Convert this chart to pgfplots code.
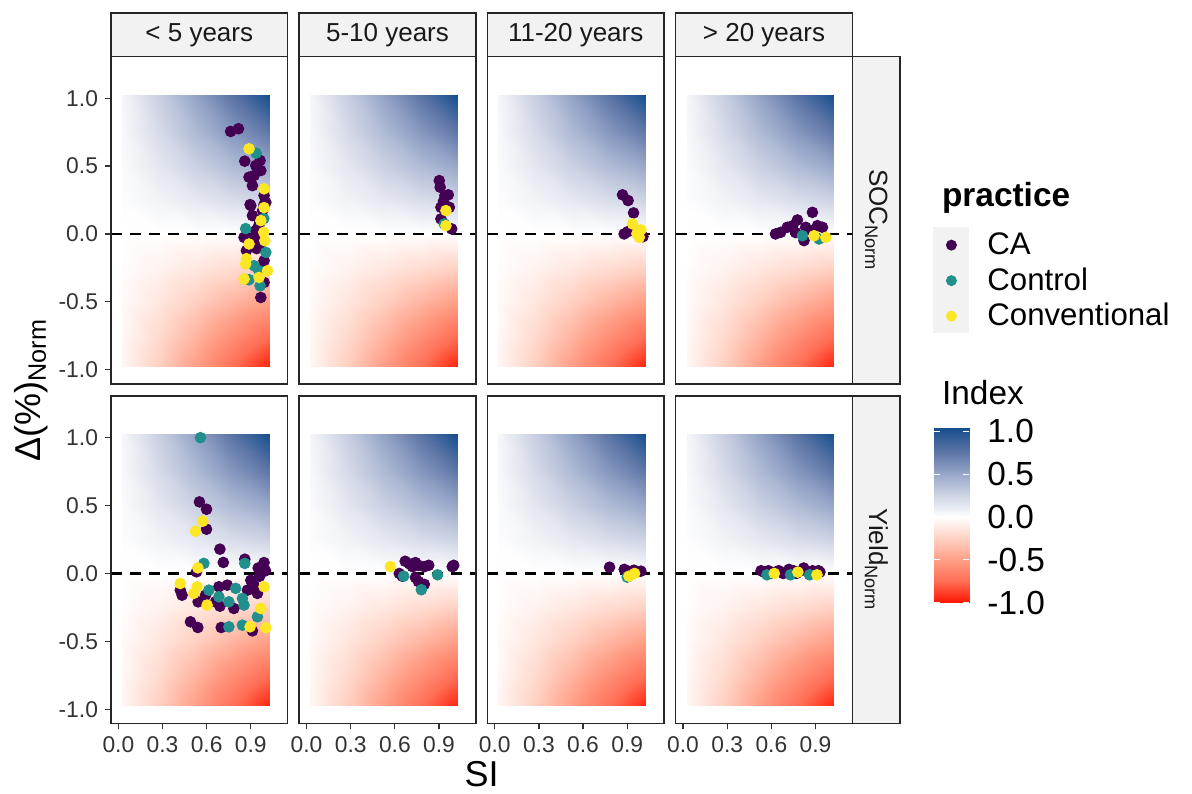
\documentclass[border=0pt]{standalone}
\usepackage{pgfplots}
\pgfplotsset{compat=1.18}
\usepackage{pgfplotstable}
\usepackage{fontspec}
\setmainfont{Liberation Sans}

\definecolor{vCA}{HTML}{440154}
\definecolor{vCT}{HTML}{21908C}
\definecolor{vCV}{HTML}{FDE725}
\definecolor{stripfill}{RGB}{242,242,242}

% background index grid (Index = SI x Delta at tile centres)
\pgfplotstableread{
x y c
0.025 -0.975 -0.0475
0.275 -0.975 -0.26125
0.525 -0.975 -0.49875
0.775 -0.975 -0.73625
1.025 -0.975 -0.95
0.025 -0.75 -0.0375
0.275 -0.75 -0.20625
0.525 -0.75 -0.39375
0.775 -0.75 -0.58125
1.025 -0.75 -0.75
0.025 -0.5 -0.025
0.275 -0.5 -0.1375
0.525 -0.5 -0.2625
0.775 -0.5 -0.3875
1.025 -0.5 -0.5
0.025 -0.25 -0.0125
0.275 -0.25 -0.06875
0.525 -0.25 -0.13125
0.775 -0.25 -0.19375
1.025 -0.25 -0.25
0.025 0 0
0.275 0 0
0.525 0 0
0.775 0 0
1.025 0 0
0.025 0.25 0.0125
0.275 0.25 0.06875
0.525 0.25 0.13125
0.775 0.25 0.19375
1.025 0.25 0.25
0.025 0.5 0.025
0.275 0.5 0.1375
0.525 0.5 0.2625
0.775 0.5 0.3875
1.025 0.5 0.5
0.025 0.75 0.0375
0.275 0.75 0.20625
0.525 0.75 0.39375
0.775 0.75 0.58125
1.025 0.75 0.75
0.025 1.025 0.05
0.275 1.025 0.275
0.525 1.025 0.525
0.775 1.025 0.775
1.025 1.025 1.0
}\bgtable

\pgfplotstableread{
x y c
0 -1 -1
1 -1 -1
0 -0.75 -0.75
1 -0.75 -0.75
0 -0.5 -0.5
1 -0.5 -0.5
0 -0.25 -0.25
1 -0.25 -0.25
0 0 0
1 0 0
0 0.25 0.25
1 0.25 0.25
0 0.5 0.5
1 0.5 0.5
0 0.75 0.75
1 0.75 0.75
0 1.04 1
1 1.04 1
}\cbtable

\pgfplotsset{
  colormap={idx}{rgb255(0cm)=(255,20,0); rgb255(1cm)=(255,110,85); rgb255(2cm)=(255,158,134); rgb255(3cm)=(255,210,196); rgb255(4cm)=(255,255,255); rgb255(5cm)=(205,211,228); rgb255(6cm)=(152,167,201); rgb255(7cm)=(95,119,168); rgb255(8cm)=(22,78,140)},
  panel/.style={
    scale only axis, width=88.3pt, height=163.75pt, anchor=north west,
    xmin=-0.05, xmax=1.15, ymin=-1.105, ymax=1.307,
    colormap name=idx, point meta min=-1, point meta max=1,
    axis on top,
    axis line style={black!85, line width=0.75pt},
    xtick=\empty, ytick=\empty,
    tick style={black!80, line width=0.6pt},
    major tick length=3pt, tick align=outside,
    ticklabel style={font=\fontsize{11.4}{13}\selectfont, text=black!80},
  },
  leftcol/.style={ytick={-1,-0.5,0,0.5,1}, yticklabels={-1.0,-0.5,0.0,0.5,1.0}, ytick pos=left},
  bottomrow/.style={xtick={0,0.3,0.6,0.9}, xticklabels={0.0,0.3,0.6,0.9}, xtick pos=bottom},
  pCA/.style={only marks, mark=*, mark size=2.7pt, color=vCA},
  pCT/.style={only marks, mark=*, mark size=2.7pt, color=vCT},
  pCV/.style={only marks, mark=*, mark size=2.7pt, color=vCV},
}

\newcommand{\bg}{%
  \addplot[surf, shader=interp, mesh/cols=5, mesh/rows=9, point meta=explicit] table[x=x,y=y,meta=c]{\bgtable};
  \addplot[black, line width=1.15pt, dash pattern=on 5.5pt off 4pt] coordinates {(-0.05,0) (1.15,0)};
}

\newcommand{\topstrip}[2]{%
  \filldraw[fill=stripfill, draw=black!85, line width=0.75pt] (#1,367.75pt) rectangle ++(88.3pt,21.75pt);
  \node[font=\fontsize{13}{15}\selectfont, text=black!90] at ([xshift=44.15pt]#1,378.6pt) {#2};
}

\begin{document}
\begin{tikzpicture}
\path (0,0) rectangle (596pt,396pt);

% ---------------- Row 1: SOC ----------------
\begin{axis}[panel, leftcol, at={(55.5pt,367.75pt)}]
\bg
\addplot[pCA] coordinates {
(0.763,0.755) (0.816,0.775) (0.859,0.536) (0.963,0.541) (0.934,0.504) (0.968,0.467)
(0.888,0.418) (0.922,0.430) (0.911,0.356) (0.990,0.283) (1.002,0.233) (0.895,0.216)
(0.900,0.209) (0.990,0.216) (0.911,0.135) (0.934,0.025) (0.854,-0.025) (0.954,-0.05)
(0.968,-0.074) (0.870,-0.123) (0.990,-0.197) (0.980,-0.258) (0.990,-0.357) (0.968,-0.468)
(0.913,-0.035) (0.94,-0.108) (0.954,0.061) (0.98,0.172) (0.93,-0.01) (0.96,0.10)
};
\addplot[pCT] coordinates {
(0.936,0.595) (0.988,0.113) (0.865,0.039) (1.002,-0.136) (0.922,-0.234) (0.888,-0.337)
(0.963,-0.382) (0.954,-0.27)
};
\addplot[pCV] coordinates {
(0.888,0.627) (0.990,0.332) (0.990,0.194) (0.968,0.098) (0.988,0.012) (0.888,-0.074)
(0.870,-0.182) (0.865,-0.221) (1.014,-0.271) (0.956,-0.320) (0.854,-0.332) (0.995,-0.05)
};
\end{axis}

\begin{axis}[panel, at={(149.6pt,367.75pt)}]
\bg
\addplot[pCA] coordinates {
(0.902,0.393) (0.908,0.344) (0.963,0.288) (0.970,0.196) (0.913,0.196) (0.913,0.111)
(0.986,0.037) (0.94,0.283) (0.93,0.24)
};
\addplot[pCT] coordinates {(0.936,0.074)};
\addplot[pCV] coordinates {(0.947,0.172) (0.947,0.061)};
\end{axis}

\begin{axis}[panel, at={(243.7pt,367.75pt)}]
\bg
\addplot[pCA] coordinates {
(0.868,0.288) (0.906,0.246) (0.943,0.155) (0.879,0.0) (0.904,0.017) (0.945,0.039) (1.007,-0.02)
};
\addplot[pCT] coordinates {(0.973,0.017)};
\addplot[pCV] coordinates {(0.936,0.074) (0.993,0.03) (0.982,-0.025) (0.966,0.002)};
\end{axis}

\begin{axis}[panel, at={(337.85pt,367.75pt)}]
\bg
\addplot[pCA] coordinates {
(0.663,0.012) (0.708,0.049) (0.777,0.103) (0.879,0.159) (0.833,0.049) (0.913,0.061)
(0.947,0.049) (0.822,-0.049) (0.867,0.024) (0.765,0.01) (0.628,0.0) (0.745,0.061)
};
\addplot[pCT] coordinates {(0.811,-0.013) (0.924,-0.037)};
\addplot[pCV] coordinates {(0.890,-0.013) (0.970,-0.025)};
\end{axis}

% ---------------- Row 2: Yield ----------------
\begin{axis}[panel, leftcol, bottomrow, at={(55.5pt,198pt)}]
\bg
\addplot[pCA] coordinates {
(0.551,0.527) (0.599,0.473) (0.599,0.326) (0.690,0.179) (0.713,0.081) (0.859,0.105)
(0.531,0.012) (0.968,0.037) (0.99,0.08) (0.95,0.04) (1.0,0.02)
(0.421,-0.123) (0.433,-0.160) (0.592,-0.16) (0.542,-0.209) (0.683,-0.098) (0.660,-0.209)
(0.690,-0.241) (0.740,-0.086) (0.785,-0.258) (0.877,-0.123) (0.922,-0.086) (0.945,-0.147)
(0.490,-0.356) (0.540,-0.398) (0.699,-0.398) (0.911,-0.423) (0.96,-0.02) (0.90,-0.05)
};
\addplot[pCT] coordinates {
(0.558,1.0) (0.859,0.074) (0.581,0.074) (0.615,-0.123) (0.683,-0.172) (0.751,-0.209)
(0.797,-0.110) (0.843,-0.184) (0.854,-0.233) (0.945,-0.319) (0.751,-0.393) (0.843,-0.381)
};
\addplot[pCV] coordinates {
(0.574,0.385) (0.524,0.311) (0.540,0.041) (0.421,-0.074) (0.535,-0.098) (0.512,-0.147)
(0.603,-0.233) (0.990,-0.098) (0.968,-0.258) (0.895,-0.393) (1.002,-0.400)
};
\end{axis}

\begin{axis}[panel, bottomrow, at={(149.6pt,198pt)}]
\bg
\addplot[pCA] coordinates {
(0.63,0.0) (0.65,-0.02) (0.67,0.09) (0.70,0.07) (0.72,0.05) (0.74,0.08) (0.76,0.06)
(0.80,0.05) (0.74,-0.03) (0.76,-0.06) (0.80,-0.08) (0.83,0.06) (0.99,0.05) (1.0,0.06)
};
\addplot[pCT] coordinates {(0.66,-0.02) (0.78,-0.12) (0.89,-0.01)};
\addplot[pCV] coordinates {(0.57,0.05)};
\end{axis}

\begin{axis}[panel, bottomrow, at={(243.7pt,198pt)}]
\bg
\addplot[pCA] coordinates {
(0.78,0.046) (0.905,0.017) (0.945,0.024) (0.993,0.017) (0.96,0.01) (0.88,0.03)
};
\addplot[pCT] coordinates {(0.90,-0.027)};
\addplot[pCV] coordinates {(0.912,-0.02) (0.95,0.0)};
\end{axis}

\begin{axis}[panel, bottomrow, at={(337.85pt,198pt)}]
\bg
\addplot[pCA] coordinates {
(0.53,0.02) (0.55,0.01) (0.58,0.02) (0.60,0.0) (0.63,0.01) (0.65,0.02) (0.68,0.0)
(0.70,0.01) (0.72,0.03) (0.75,0.02) (0.77,0.0) (0.80,0.02) (0.82,0.04) (0.85,0.01)
(0.88,0.02) (0.90,0.0) (0.92,0.02) (0.93,0.01)
};
\addplot[pCT] coordinates {(0.57,-0.01) (0.73,-0.01) (0.86,-0.01)};
\addplot[pCV] coordinates {(0.62,0.0) (0.78,0.01) (0.91,-0.01)};
\end{axis}

% ---------------- Strips ----------------
\topstrip{55.5pt}{< 5 years}
\topstrip{149.6pt}{5-10 years}
\topstrip{243.7pt}{11-20 years}
\topstrip{337.85pt}{> 20 years}

\filldraw[fill=stripfill, draw=black!85, line width=0.75pt] (426.15pt,204pt) rectangle (450pt,367.75pt);
\node[rotate=-90, font=\fontsize{13}{15}\selectfont, text=black!90] at (438.1pt,285.9pt) {SOC\textsubscript{Norm}};
\filldraw[fill=stripfill, draw=black!85, line width=0.75pt] (426.15pt,34.25pt) rectangle (450pt,198pt);
\node[rotate=-90, font=\fontsize{13}{15}\selectfont, text=black!90] at (438.1pt,116.1pt) {Yield\textsubscript{Norm}};

% ---------------- Axis titles ----------------
\node[font=\fontsize{18}{20}\selectfont] at (240.75pt,8.8pt) {SI};
\node[rotate=90, font=\fontsize{18}{20}\selectfont] at (15.5pt,201pt) {Δ(\%)\textsubscript{Norm}};

% ---------------- Legend: practice ----------------
\node[anchor=base west, font=\bfseries\fontsize{16.7}{19}\selectfont] at (467.5pt,292.65pt) {practice};
\fill[stripfill] (466.5pt,282.5pt) rectangle (484.5pt,229.25pt);
\begin{axis}[hide axis, scale only axis, at={(466.5pt,282.5pt)}, anchor=north west,
  width=18pt, height=53pt, xmin=0, xmax=1, ymin=0, ymax=1,
  legend cell align=left,
  legend image code/.code={\path[draw=none, fill=none] (-9pt,-8.875pt) rectangle (9pt,8.875pt); \fill[#1] (0pt,0pt) circle (2.75pt);},
  legend style={at={(0,1)}, anchor=north west, draw=none, fill=none, inner sep=0pt,
    row sep=0pt, column sep=9pt, nodes={inner sep=0pt},
    font=\fontsize{15.6}{18}\selectfont}]
\addlegendimage{fill=vCA, draw=none}
\addlegendentry{CA}
\addlegendimage{fill=vCT, draw=none}
\addlegendentry{Control}
\addlegendimage{fill=vCV, draw=none}
\addlegendentry{Conventional}
\end{axis}

% ---------------- Colour bar: Index ----------------
\node[anchor=base west, font=\fontsize{16.7}{19}\selectfont] at (467.5pt,193.5pt) {Index};
\begin{axis}[scale only axis, at={(467pt,182.15pt)}, anchor=north west,
  width=17.65pt, height=87.5pt, xmin=0, xmax=1, ymin=-1, ymax=1.04,
  colormap name=idx, point meta min=-1, point meta max=1, axis on top,
  axis line style={draw=none}, xtick=\empty,
  ytick={-1,-0.5,0,0.5,1}, yticklabels={-1.0,-0.5,0.0,0.5,1.0},
  ytick pos=both, yticklabel pos=right, tick align=inside, major tick length=3pt,
  tick style={white, line width=0.5pt},
  yticklabel style={font=\fontsize{16.7}{19}\selectfont, anchor=west, inner sep=0pt, xshift=8.85pt}]
\addplot[surf, shader=interp, mesh/cols=2, mesh/rows=9, point meta=explicit] table[x=x,y=y,meta=c]{\cbtable};
\end{axis}
\end{tikzpicture}
\end{document}
